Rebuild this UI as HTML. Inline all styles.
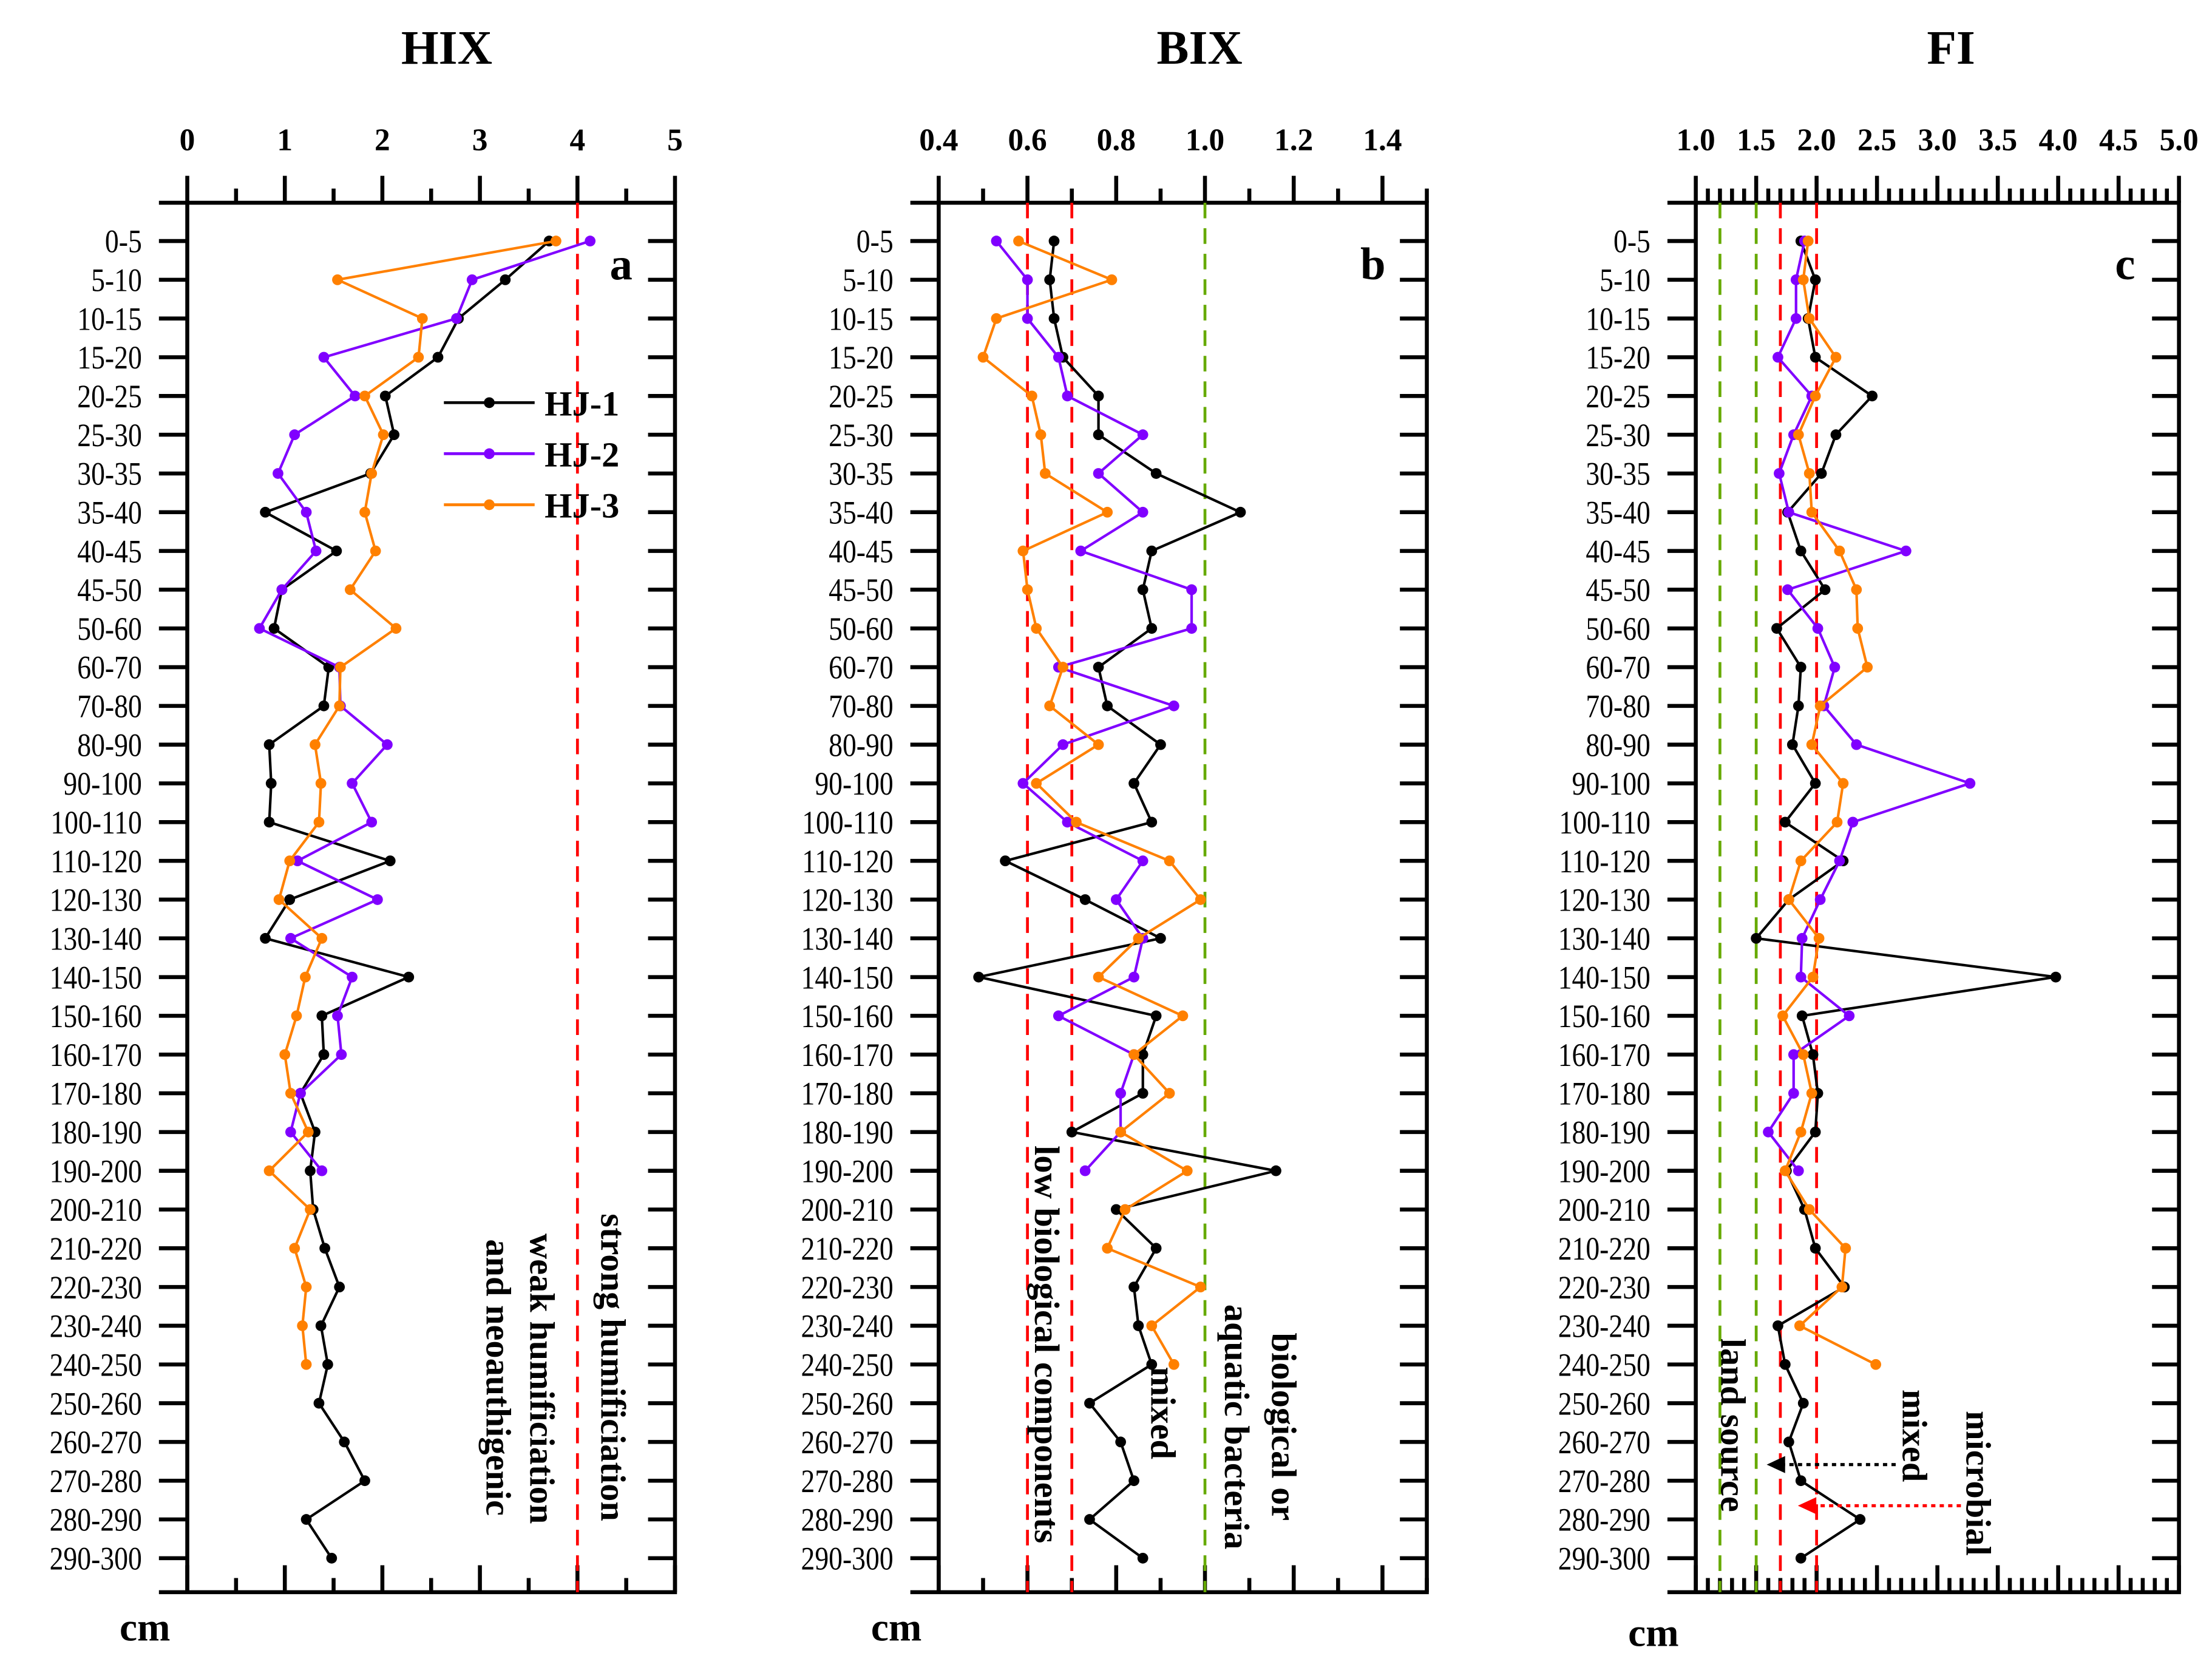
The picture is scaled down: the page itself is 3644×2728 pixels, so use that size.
<!DOCTYPE html>
<html><head><meta charset="utf-8"><style>
html,body{margin:0;padding:0;background:#fff;}
svg{display:block;}
text{font-family:"Liberation Serif",serif;}
</style></head><body>
<svg id="chart" width="3644" height="2728" viewBox="0 0 1560 1168" xmlns="http://www.w3.org/2000/svg"></svg>
<script>
const depthLabels=["0-5","5-10","10-15","15-20","20-25","25-30","30-35","35-40","40-45","45-50","50-60","60-70","70-80","80-90","90-100","100-110","110-120","120-130","130-140","140-150","150-160","160-170","170-180","180-190","190-200","200-210","210-220","220-230","230-240","240-250","250-260","260-270","270-280","280-290","290-300"];
const hixHJ1=[3.71,3.26,2.78,2.57,2.03,2.12,1.88,0.80,1.53,0.97,0.89,1.45,1.40,0.84,0.86,0.84,2.08,1.05,0.80,2.27,1.38,1.40,1.16,1.31,1.26,1.29,1.41,1.56,1.37,1.44,1.35,1.61,1.82,1.22,1.48];
const hixHJ2=[4.13,2.92,2.76,1.40,1.72,1.10,0.93,1.22,1.32,0.97,0.74,1.56,1.57,2.05,1.69,1.89,1.13,1.95,1.06,1.69,1.54,1.58,1.16,1.06,1.38];
const hixHJ3=[3.78,1.54,2.41,2.37,1.82,2.01,1.89,1.82,1.93,1.67,2.14,1.57,1.56,1.31,1.37,1.35,1.05,0.94,1.38,1.21,1.12,1.00,1.06,1.24,0.84,1.26,1.10,1.22,1.18,1.22];
const bixHJ1=[0.66,0.65,0.66,0.68,0.76,0.76,0.89,1.08,0.88,0.86,0.88,0.76,0.78,0.90,0.84,0.88,0.55,0.73,0.90,0.49,0.89,0.86,0.86,0.70,1.16,0.80,0.89,0.84,0.85,0.88,0.74,0.81,0.84,0.74,0.86];
const bixHJ2=[0.53,0.60,0.60,0.67,0.69,0.86,0.76,0.86,0.72,0.97,0.97,0.67,0.93,0.68,0.59,0.69,0.86,0.80,0.86,0.84,0.67,0.84,0.81,0.81,0.73];
const bixHJ3=[0.58,0.79,0.53,0.50,0.61,0.63,0.64,0.78,0.59,0.60,0.62,0.68,0.65,0.76,0.62,0.71,0.92,0.99,0.85,0.76,0.95,0.84,0.92,0.81,0.96,0.82,0.78,0.99,0.88,0.93];
const fiHJ1=[1.87,1.99,1.93,1.99,2.46,2.16,2.04,1.76,1.87,2.07,1.67,1.87,1.85,1.80,1.99,1.74,2.22,1.77,1.50,3.98,1.88,1.97,2.01,1.99,1.75,1.90,1.99,2.23,1.68,1.74,1.89,1.77,1.87,2.36,1.87];
const fiHJ2=[1.90,1.83,1.83,1.68,1.96,1.81,1.69,1.77,2.74,1.76,2.01,2.15,2.06,2.33,3.27,2.30,2.19,2.03,1.88,1.87,2.27,1.81,1.81,1.60,1.85];
const fiHJ3=[1.93,1.89,1.94,2.16,1.99,1.85,1.94,1.96,2.19,2.33,2.34,2.42,2.03,1.96,2.22,2.17,1.87,1.77,2.02,1.97,1.72,1.89,1.96,1.87,1.74,1.94,2.24,2.21,1.86,2.49];
const hixTicks=["0","1","2","3","4","5"];
const bixTicks=["0.4","0.6","0.8","1.0","1.2","1.4"];
const fiTicks=["1.0","1.5","2.0","2.5","3.0","3.5","4.0","4.5","5.0"];

const NS="http://www.w3.org/2000/svg";
const svg=document.getElementById('chart');
function mk(tag,attrs,parent,text){const e=document.createElementNS(NS,tag);for(const k in attrs)e.setAttribute(k,attrs[k]);if(text!==undefined)e.textContent=text;(parent||svg).appendChild(e);return e;}
const TOP=143,BOT=1123,ROW0=170,ROWSTEP=(1099-170)/34;
function yRow(i){return ROW0+i*ROWSTEP;}

function panel(cfg){
  const g=mk('g',{});
  
  
  const sx=v=>cfg.x0+(v-cfg.v0)*cfg.ppu;
  const L=cfg.x0,R=sx(cfg.v1);
  const t=mk('text',{x:cfg.titleX,y:45,'text-anchor':'middle','font-size':34,'font-weight':'bold'},g,cfg.title);
  
  const lw=2.8;
  const box=mk('path',{d:`M${L-20},${TOP}H${R}V${BOT}H${L-20}M${L},${TOP}V${BOT}`,stroke:'#000','stroke-width':lw,fill:'none'},g);
  
  for(let k=0;;k++){
    const v=cfg.v0+k*cfg.minor; if(v>cfg.v1+1e-9)break;
    const x=sx(v);
    const isMaj=Math.abs(((v-cfg.v0)/cfg.major)-Math.round((v-cfg.v0)/cfg.major))<1e-6;
    const len=isMaj?19:10;
    const tk=mk('line',{x1:x,x2:x,y1:TOP,y2:TOP-len,stroke:'#000','stroke-width':lw},g);
    
    const bk=mk('line',{x1:x,x2:x,y1:BOT,y2:BOT-len,stroke:'#000','stroke-width':lw},g);
    
  }
  cfg.ticks.forEach(s=>{
    const tl=mk('text',{x:sx(parseFloat(s)),y:106,'text-anchor':'middle','font-size':22,'font-weight':'bold'},g,s);
    
  });
  depthLabels.forEach((d,i)=>{
    const y=yRow(i);
    const a=mk('line',{x1:L-20,x2:L,y1:y,y2:y,stroke:'#000','stroke-width':lw},g);
    
    const b=mk('line',{x1:R-19,x2:R,y1:y,y2:y,stroke:'#000','stroke-width':lw},g);
    
    const l=mk('text',{x:0,y:0,'text-anchor':'end','font-size':23,transform:`translate(${L-32},${y+8}) scale(0.85,1)`},g,d);
    
  });
  const cm=mk('text',{x:L-12,y:cfg.cmY,'text-anchor':'end','font-size':28,'font-weight':'bold'},g,'cm');
  
  const lt=mk('text',{x:R-38,y:197,'text-anchor':'middle','font-size':32,'font-weight':'bold'},g,cfg.letter);
  
  cfg.refs.forEach(r=>{
    const x=sx(r[0]);
    const rl=mk('line',{x1:x,x2:x,y1:TOP,y2:BOT,stroke:r[1],'stroke-width':2,'stroke-dasharray':'11,7'},g);
    
  });
  const cols=['#000000','#8000ff','#ff8000'];
  cfg.series.forEach((s,si)=>{
    const pts=s.map((v,i)=>sx(v).toFixed(1)+','+yRow(i).toFixed(1)).join(' ');
    const pl=mk('polyline',{points:pts,fill:'none',stroke:cols[si],'stroke-width':1.8},g);
    
    s.forEach((v,i)=>{
      const c=mk('circle',{cx:sx(v),cy:yRow(i),r:3.8,fill:cols[si]},g);
      
    });
  });
  return {g,sx};
}

panel({name:'hix',title:'HIX',letter:'a',titleX:315,x0:132,v0:0,v1:5,ppu:68.8,minor:0.5,major:1,ticks:hixTicks,refs:[[4,'#ff0000']],series:[hixHJ1,hixHJ2,hixHJ3],cmY:1157});
panel({name:'bix',title:'BIX',letter:'b',titleX:846,x0:662,v0:0.4,v1:1.5,ppu:313,minor:0.1,major:0.2,ticks:bixTicks,refs:[[0.6,'#ff0000'],[0.7,'#ff0000'],[1.0,'#66aa00']],series:[bixHJ1,bixHJ2,bixHJ3],cmY:1157});
panel({name:'fi',title:'FI',letter:'c',titleX:1376,x0:1196,v0:1.0,v1:5.0,ppu:85.2,minor:0.1,major:0.5,ticks:fiTicks,refs:[[1.2,'#66aa00'],[1.5,'#66aa00'],[1.7,'#ff0000'],[2.0,'#ff0000']],series:[fiHJ1,fiHJ2,fiHJ3],cmY:1161});

const legNames=['HJ-1','HJ-2','HJ-3'],legCols=['#000000','#8000ff','#ff8000'];
legNames.forEach((n,i)=>{
  const y=284+i*36;
  const g=mk('g',{});
  
  
  mk('line',{x1:313,x2:377,y1:y,y2:y,stroke:legCols[i],'stroke-width':2},g);
  mk('circle',{cx:345,cy:y,r:3.8,fill:legCols[i]},g);
  mk('text',{x:384,y:y+9,'font-size':25,'font-weight':'bold'},g,n);
});

function vtext(x,y,s,size,name){
  const t=mk('text',{x:0,y:0,'font-size':size,'font-weight':'bold',transform:`translate(${x},${y}) rotate(90)`},svg,s);
  
}
vtext(424,856,'strong humificiation',25,'strong-humification-label');
vtext(374,870,'weak humificiation',25,'weak-humification-label');
vtext(343,874,'and neoauthigenic',25,'neoauthigenic-label');
vtext(730,808,'low biological components',25,'low-biological-label');
vtext(812,964,'mixed',25,'bix-mixed-label');
vtext(897,940,'biological or',25,'biological-label');
vtext(864,920,'aquatic bacteria',25,'aquatic-bacteria-label');
vtext(1214,944,'land source',25,'land-source-label');
vtext(1342,980,'mixed',25,'fi-mixed-label');
vtext(1387,995,'microbial',25,'microbial-label');

function arrow(x1,x2,y,col,name){
  const g=mk('g',{});
  
  
  mk('line',{x1:x1,x2:x2+8,y1:y,y2:y,stroke:col,'stroke-width':2.2,'stroke-dasharray':'3,3'},g);
  mk('polygon',{points:`${x2},${y} ${x2+13},${y-6} ${x2+13},${y+6}`,fill:col},g);
}
arrow(1337,1246,1033,'#000000','mixed-arrow');
arrow(1383,1268,1062,'#ff0000','microbial-arrow');
</script>
</body></html>
